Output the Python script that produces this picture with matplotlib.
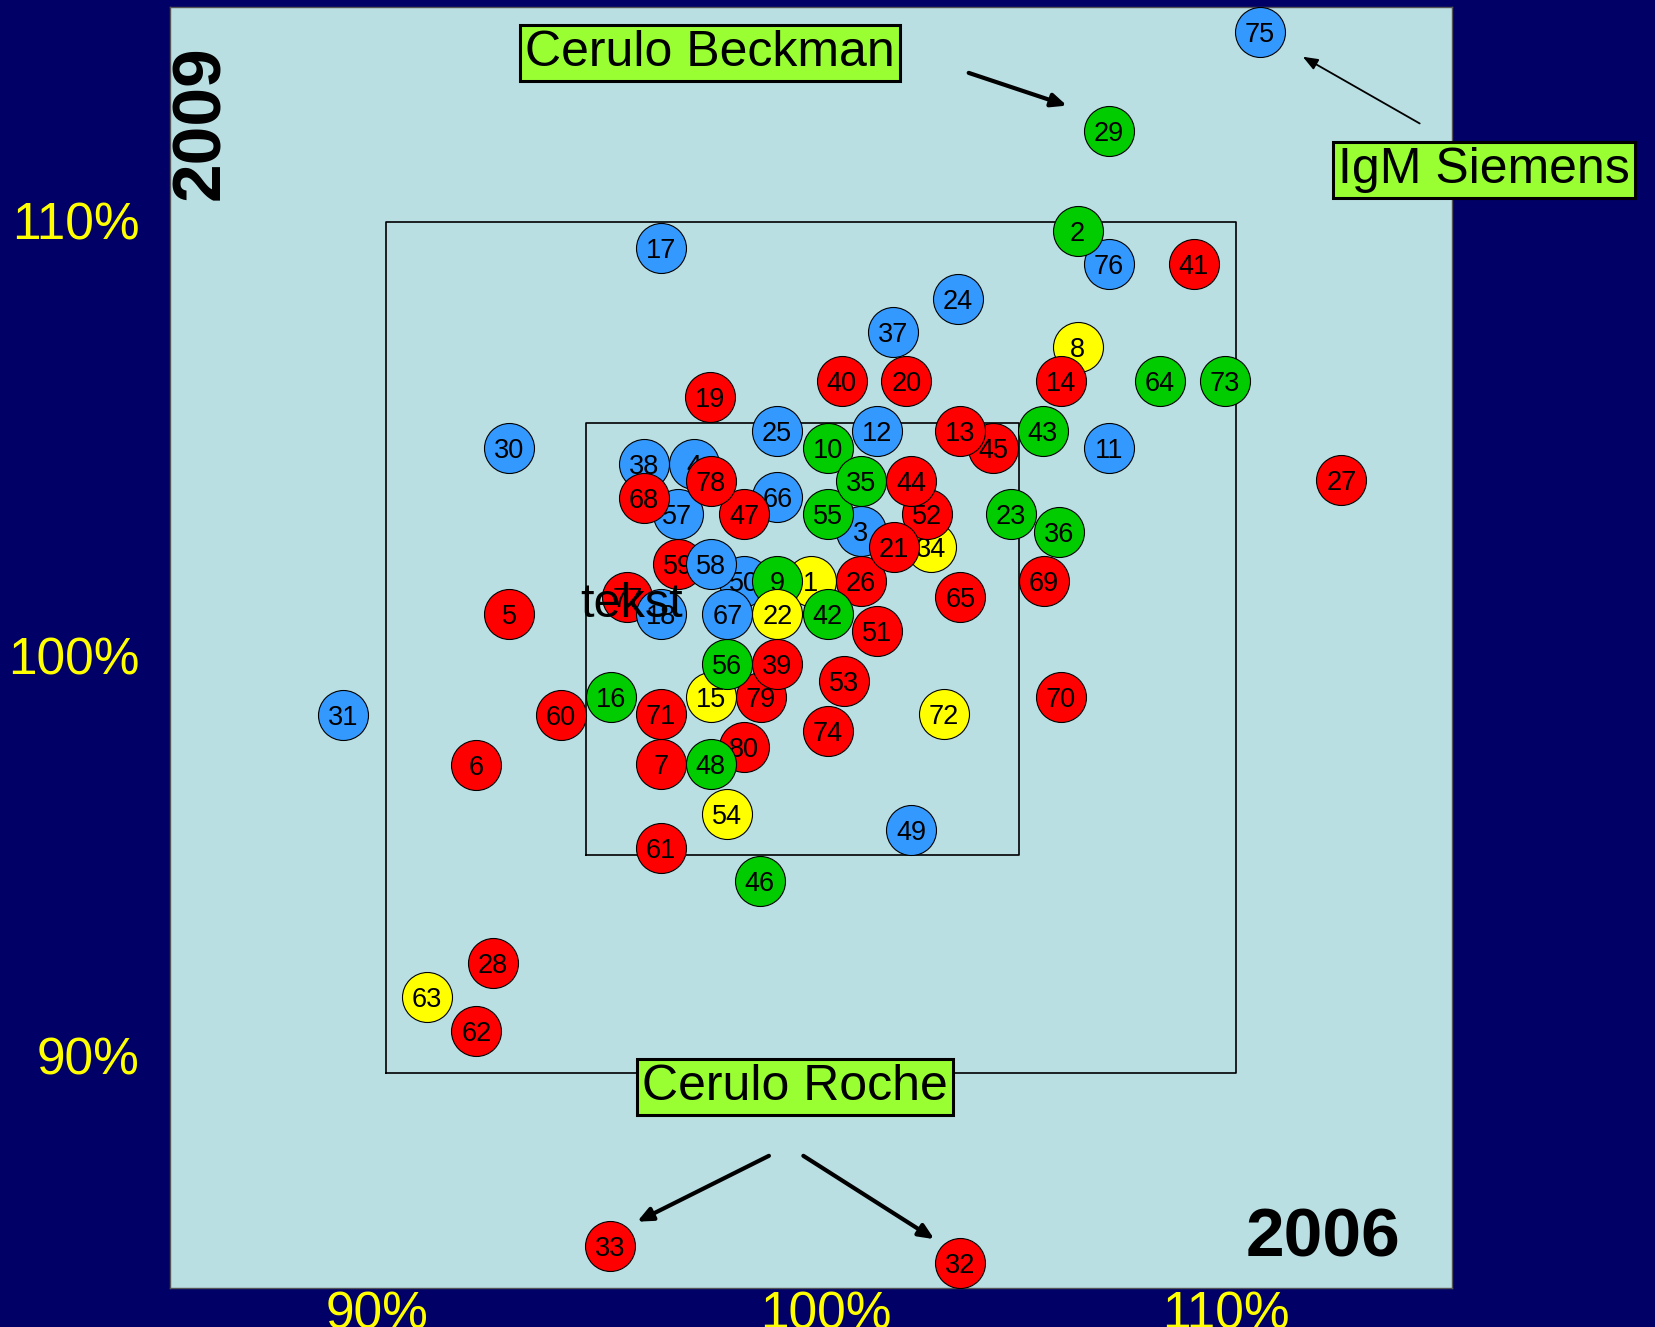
import matplotlib
matplotlib.use("Agg")
import matplotlib.pyplot as plt
from matplotlib.transforms import offset_copy

# ---------------- data ----------------
ids = list(range(1, 81))
x_2006 = [100.00, 106.28, 101.18, 97.26, 92.91, 92.14, 96.48, 106.28, 99.22, 100.40,
          107.02, 101.57, 103.52, 105.88, 97.65, 95.30, 96.48, 96.48, 97.64, 102.25,
          101.96, 99.22, 104.71, 103.47, 99.20, 101.18, 112.49, 92.53, 107.02, 92.91,
          89.00, 103.52, 95.29, 102.83, 101.18, 105.85, 101.95, 96.08, 99.22, 100.73,
          109.01, 100.40, 105.46, 102.36, 104.30, 98.80, 98.44, 97.65, 102.36, 98.44,
          101.57, 102.73, 100.79, 98.04, 100.40, 98.04, 96.87, 97.65, 96.87, 94.12,
          96.48, 92.14, 90.97, 108.21, 103.52, 99.22, 98.04, 96.08, 105.48, 105.88,
          96.48, 103.14, 109.75, 100.40, 110.57, 107.02, 95.69, 97.65, 98.83, 98.44]
y_2009 = [101.57, 109.79, 102.75, 104.31, 100.80, 97.24, 97.26, 107.06, 101.57, 104.70,
          104.70, 105.10, 105.10, 106.26, 98.83, 98.83, 109.40, 100.79, 105.89, 106.27,
          102.36, 100.79, 103.14, 108.20, 105.10, 101.57, 103.93, 92.57, 112.15, 104.70,
          98.41, 85.52, 85.91, 102.36, 103.92, 102.71, 107.43, 104.31, 99.61, 106.26,
          109.02, 100.79, 105.10, 103.92, 104.70, 94.51, 103.14, 97.26, 95.71, 101.57,
          100.40, 103.14, 99.22, 96.08, 103.14, 99.61, 103.14, 101.96, 101.96, 98.41,
          95.28, 90.98, 91.78, 106.26, 101.18, 103.53, 100.79, 103.52, 101.57, 98.84,
          98.44, 98.44, 106.26, 98.04, 114.49, 109.02, 101.18, 103.92, 98.83, 97.65]
group = ['Y', 'G', 'B', 'B', 'R', 'R', 'R', 'Y', 'G', 'G',
         'B', 'B', 'R', 'R', 'Y', 'G', 'B', 'B', 'R', 'R',
         'R', 'Y', 'G', 'B', 'B', 'R', 'R', 'R', 'G', 'B',
         'B', 'R', 'R', 'Y', 'G', 'G', 'B', 'B', 'R', 'R',
         'R', 'G', 'G', 'R', 'R', 'G', 'R', 'G', 'B', 'B',
         'R', 'R', 'R', 'Y', 'G', 'G', 'B', 'B', 'R', 'R',
         'R', 'R', 'Y', 'G', 'R', 'B', 'B', 'R', 'R', 'R',
         'R', 'Y', 'G', 'R', 'B', 'B', 'R', 'R', 'R', 'R']
# points that lie underneath their neighbours
under = [1, 3, 8, 10, 26, 34, 45, 50, 52, 55, 59, 66, 76, 77, 79, 80]

tick_vals = [90, 100, 110]
tick_labels = ['90%', '100%', '110%']

outer_box = (90, 110, 90, 110)
inner_box = (94.72, 104.91, 95.12, 105.29)

colors = {'R': '#FF0000', 'B': '#3399FF', 'G': '#00CC00', 'Y': '#FFFF00'}

NAVY = '#000066'
AXBG = '#BADFE3'
LIME = '#99FF33'
TICKC = '#FFFF00'

plt.rcParams['font.family'] = ['Liberation Sans', 'DejaVu Sans']

fig = plt.figure(figsize=(16.56, 13.27), dpi=100, facecolor=NAVY)
ax = fig.add_axes([0.10266, 0.02939, 0.77415, 0.96533])
ax.set_facecolor(AXBG)
ax.set_xlim(84.93, 115.09)
ax.set_ylim(84.93, 115.07)
for s in ax.spines.values():
    s.set_color('#555555')
    s.set_linewidth(1.0)
ax.set_xticks([])
ax.set_yticks([])

# tick labels placed as free text (as in the original slide), slight nudges in points
x_nudge = [-6, 11, -7]
y_nudge = [8.6, -9.7, -2.2]
for v, lab, dx in zip(tick_vals, tick_labels, x_nudge):
    tr = offset_copy(ax.get_xaxis_transform(), fig=fig, x=dx, y=-2, units='points')
    ax.text(v, 0, lab, transform=tr, ha='center', va='top', fontsize=37,
            color=TICKC, clip_on=False)
for v, lab, dy in zip(tick_vals, tick_labels, y_nudge):
    tr = offset_copy(ax.get_yaxis_transform(), fig=fig, x=-22, y=dy, units='points')
    ax.text(0, v, lab, transform=tr, ha='right', va='center', fontsize=37,
            color=TICKC, clip_on=False)

# boxes
for (x0, x1, y0, y1) in (outer_box, inner_box):
    ax.plot([x0, x1, x1, x0, x0], [y0, y0, y1, y1, y0], color='black', lw=1.2, zorder=1)

# points
order = under + [i for i in ids if i not in under]
for k, pid in enumerate(order):
    i = pid - 1
    z = 3 + 2 * k
    ax.scatter([x_2006[i]], [y_2009[i]], s=1296, c=colors[group[i]],
               edgecolors='black', linewidths=0.8, zorder=z)
    ax.text(x_2006[i], y_2009[i], str(pid), ha='center', va='center_baseline',
            fontsize=19.5, color='black', zorder=z + 1)

# stray text
ax.text(95.79, 100.72, 'tekst', fontsize=35, ha='center', va='baseline',
        color='black', zorder=500)

# year labels
ax.text(85.66, 112.34, '2009', rotation=90, fontsize=50, fontweight='bold',
        ha='center', va='center', zorder=500)
ax.text(112.06, 86.10, '2006', fontsize=50, fontweight='bold',
        ha='center', va='center', zorder=500)

# callouts
bbox = dict(boxstyle='square,pad=0.1', fc=LIME, ec='black', lw=2.2)
ax.text(97.63, 113.99, 'Cerulo Beckman', fontsize=36, ha='center', va='center',
        bbox=bbox, zorder=600)
ax.text(99.64, 89.67, 'Cerulo Roche', fontsize=36, ha='center', va='center',
        bbox=bbox, zorder=600)
ax.text(115.85, 111.24, 'IgM Siemens', fontsize=36, ha='center', va='center',
        bbox=bbox, zorder=600, clip_on=False)

thick = dict(arrowstyle='-|>,head_length=0.9,head_width=0.4', color='black', lw=3,
             shrinkA=0, shrinkB=0)
thin = dict(arrowstyle='-|>,head_length=0.9,head_width=0.35', color='black', lw=1.3,
            shrinkA=0, shrinkB=0)
ax.annotate('', xy=(106.03, 112.75), xytext=(103.72, 113.52), arrowprops=thick, zorder=600)
ax.annotate('', xy=(111.58, 113.90), xytext=(114.33, 112.33), arrowprops=thin, zorder=600)
ax.annotate('', xy=(95.92, 86.49), xytext=(99.02, 88.04), arrowprops=thick, zorder=600)
ax.annotate('', xy=(102.91, 86.08), xytext=(99.83, 88.04), arrowprops=thick, zorder=600)

fig.savefig('out.png', dpi=100, facecolor=NAVY)
